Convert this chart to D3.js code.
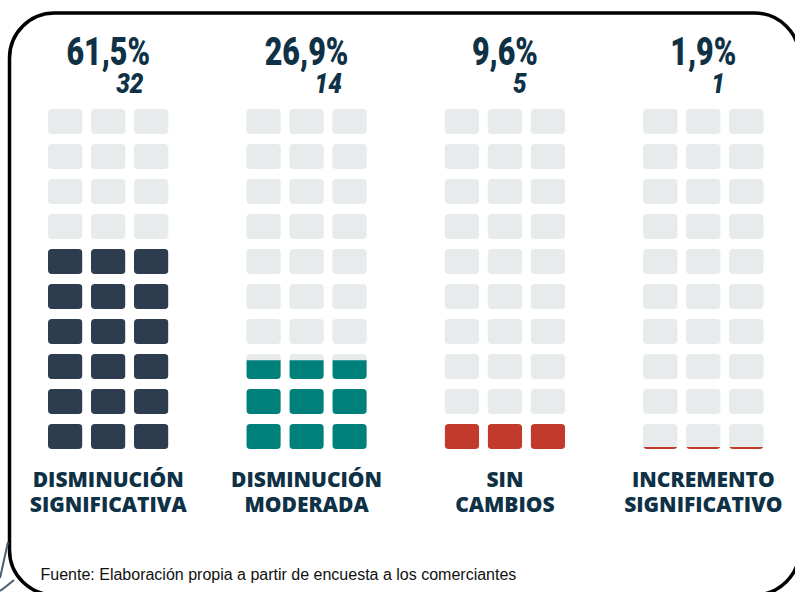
<!DOCTYPE html>
<html>
<head>
<meta charset="utf-8">
<script src="https://cdn.jsdelivr.net/npm/d3@7"></script>
<style>
  body { margin: 0; background: #fff; }
  svg { display: block; }
</style>
</head>
<body>
<div id="chart"></div>
<script>
// data
const categories = ["DISMINUCIÓN SIGNIFICATIVA", "DISMINUCIÓN MODERADA", "SIN CAMBIOS", "INCREMENTO SIGNIFICATIVO"];
const labelLines = [["DISMINUCIÓN", "SIGNIFICATIVA"], ["DISMINUCIÓN", "MODERADA"], ["SIN", "CAMBIOS"], ["INCREMENTO", "SIGNIFICATIVO"]];
const percentLabels = ["61,5%", "26,9%", "9,6%", "1,9%"];
const counts = [32, 14, 5, 1];
// filled rows (of 10) as drawn in the picture
const fillRows = [6, 2.75, 1, 0.08];
const source = "Fuente: Elaboración propia a partir de encuesta a los comerciantes";

const palette = ["#2d3c4e", "#00807b", "#c23a2c", "#c23a2c"];
const emptyColor = "#e8ebec";
const textColor = "#0e3146";

const width = 795, height = 592;
const nCols = 3, nRows = 10;

const svg = d3.select("#chart").append("svg")
    .attr("width", width)
    .attr("height", height);

// frame
svg.append("rect")
    .attr("x", 9.5).attr("y", 13)
    .attr("width", 790).attr("height", 582)
    .attr("rx", 45)
    .attr("fill", "none")
    .attr("stroke", "#000")
    .attr("stroke-width", 3.5);

// little decoration bottom-left
svg.append("path")
    .attr("d", "M0,578 L8,542 M0,591 Q7,586 14,580")
    .attr("fill", "none")
    .attr("stroke", "#4b5d6f")
    .attr("stroke-width", 2);

// scales
const groupX = d3.scaleBand()
    .domain(categories)
    .range([48, 763.5])
    .paddingInner(0.393);

const colX = d3.scaleBand()
    .domain(d3.range(nCols))
    .range([0, groupX.bandwidth()])
    .paddingInner(0.2);

const rowY = d3.scaleBand()
    .domain(d3.range(nRows))   // 0 = bottom row
    .range([449, 109])
    .paddingInner(0.286);

const fillScale = d3.scaleLinear().domain([0, 1]).range([0, rowY.bandwidth()]).clamp(true);

const defs = svg.append("defs");
const condensed = "Roboto, 'Liberation Sans', sans-serif";

categories.forEach((cat, gi) => {
    const g = svg.append("g")
        .attr("transform", `translate(${groupX(cat)},0)`);
    const cx = groupX.bandwidth() / 2;

    const cells = [];
    d3.range(nRows).forEach(r => d3.range(nCols).forEach(c => cells.push({ r, c })));

    cells.forEach(d => {
        const id = `clip-${gi}-${d.r}-${d.c}`;
        defs.append("clipPath").attr("id", id)
            .append("rect")
            .attr("x", groupX(cat) + colX(d.c))
            .attr("y", rowY(d.r))
            .attr("width", colX.bandwidth())
            .attr("height", rowY.bandwidth())
            .attr("rx", 4);

        g.append("rect")
            .attr("x", colX(d.c))
            .attr("y", rowY(d.r))
            .attr("width", colX.bandwidth())
            .attr("height", rowY.bandwidth())
            .attr("rx", 4)
            .attr("fill", emptyColor);

        const h = fillScale(fillRows[gi] - d.r);
        if (h > 0) {
            svg.append("rect")
                .attr("clip-path", `url(#${id})`)
                .attr("x", groupX(cat) + colX(d.c))
                .attr("y", rowY(d.r) + rowY.bandwidth() - h)
                .attr("width", colX.bandwidth())
                .attr("height", h)
                .attr("fill", palette[gi]);
        }
    });

    // percentage (squeezed to look condensed)
    g.append("text")
        .attr("transform", `translate(${cx},65) scale(0.8,1)`)
        .attr("text-anchor", "middle")
        .attr("font-family", condensed)
        .attr("font-weight", 900)
        .attr("font-size", 38)
        .attr("fill", textColor)
        .text(percentLabels[gi]);

    // count
    g.append("text")
        .attr("transform", `translate(${cx + 8},93) scale(0.9,1)`)
        .attr("text-anchor", "start")
        .attr("font-family", condensed)
        .attr("font-weight", 900)
        .attr("font-style", "italic")
        .attr("font-size", 27)
        .attr("fill", textColor)
        .text(counts[gi]);

    // category label
    const lbl = g.append("text")
        .attr("text-anchor", "middle")
        .attr("font-family", "'Open Sans', sans-serif")
        .attr("font-weight", 800)
        .attr("font-size", 21)
        .attr("fill", textColor);
    labelLines[gi].forEach((line, li) => {
        lbl.append("tspan")
            .attr("x", cx)
            .attr("y", 487 + li * 25)
            .text(line);
    });
});

// source note
svg.append("text")
    .attr("x", 40.5)
    .attr("y", 580)
    .attr("font-family", "'Liberation Sans', Arial, sans-serif")
    .attr("font-size", 16)
    .attr("fill", "#111")
    .text(source);
</script>
</body>
</html>
